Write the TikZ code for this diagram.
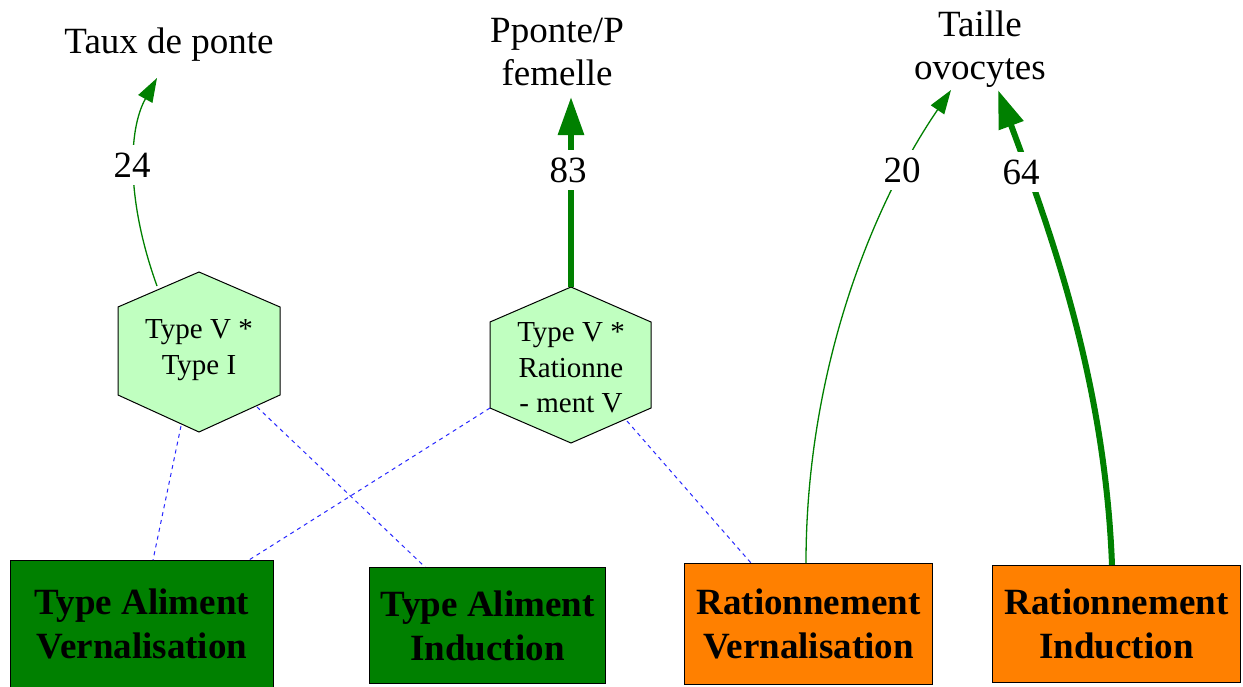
\documentclass[tikz,border=0pt]{standalone}
\usepackage{fontspec}
\setmainfont{Liberation Serif}
\usetikzlibrary{arrows.meta,calc}
\definecolor{dgreen}{RGB}{0,128,0}
\definecolor{orng}{RGB}{255,128,0}
\definecolor{hexfill}{RGB}{192,255,192}
\definecolor{dashblue}{RGB}{40,40,255}
\begin{document}
\begin{tikzpicture}[x=1pt,y=-1pt,
  lbl/.style={font=\fontsize{37}{40}\selectfont, fill=white, inner xsep=3pt, inner ysep=8pt},
  tgt/.style={font=\fontsize{37}{43}\selectfont, align=center, inner sep=0pt},
  boxst/.style={draw=black, line width=1pt, font=\fontsize{37}{44}\selectfont\bfseries, align=center, inner sep=0pt, anchor=north west},
  hexst/.style={draw=black, line width=1pt, fill=hexfill},
  hextxt/.style={font=\fontsize{29}{35.5}\selectfont, align=center, inner sep=0pt},
  thinarrow/.style={draw=dgreen, line width=1.3pt, -{Triangle[length=24pt,width=16pt]}},
  thickarrow/.style={draw=dgreen, line width=6pt, -{Triangle[length=38pt,width=25pt]}},
  dashlink/.style={draw=dashblue, line width=1pt, dash pattern=on 4pt off 4pt}]
\fill[white] (0,0) rectangle (1243,686);
\useasboundingbox (0,0) rectangle (1243,686);

% targets
\node[tgt] (taux) at (169,45) {Taux de ponte};
\node[tgt] (pponte) at (557,52) {Pponte/P\\femelle};
\node[tgt] (taille) at (980,49) {Taille\\ovocytes};
\coordinate (t1) at (157,78);
\coordinate (t2) at (571,97);
\coordinate (t3a) at (951,90);
\coordinate (t3b) at (998,90);

% boxes
\node[boxst, fill=dgreen, minimum width=263pt, minimum height=127pt] (b1) at (10,560) {Type Aliment\\Vernalisation};
\node[boxst, fill=dgreen, minimum width=236pt, minimum height=116pt] (b2) at (369,567) {Type Aliment\\Induction};
\node[boxst, fill=orng, minimum width=248pt, minimum height=121pt] (b3) at (684,563) {Rationnement\\Vernalisation};
\node[boxst, fill=orng, minimum width=248pt, minimum height=117pt] (b4) at (992,565) {Rationnement\\Induction};

% hexagon 1
\coordinate (h1n) at (199,272);
\coordinate (h1ne) at (280,307);
\coordinate (h1se) at (280,395);
\coordinate (h1s) at (199,432);
\coordinate (h1sw) at (118,395);
\coordinate (h1nw) at (118,307);
\draw[hexst] (h1n) -- (h1ne) -- (h1se) -- (h1s) -- (h1sw) -- (h1nw) -- cycle;
\node[hextxt] (h1) at (199,350) {Type V *\\Type I};

% hexagon 2
\coordinate (h2n) at (571,287);
\coordinate (h2ne) at (651,322);
\coordinate (h2se) at (651,408);
\coordinate (h2s) at (571,443);
\coordinate (h2sw) at (490,408);
\coordinate (h2nw) at (490,322);
\draw[hexst] (h2n) -- (h2ne) -- (h2se) -- (h2s) -- (h2sw) -- (h2nw) -- cycle;
\node[hextxt] (h2) at (571,368) {Type V *\\Rationne\\- ment V};

% attachment points
\coordinate (h1a) at (157,286);
\coordinate (h1b) at (181,426);
\coordinate (h1c) at (257,407);
\coordinate (h2b) at (627,421);
\coordinate (b1a) at (153,560);
\coordinate (b1b) at (249,560);
\coordinate (b2a) at (425,567);
\coordinate (b3a) at (751,563);
\coordinate (b3b) at (806,563);
\coordinate (b4a) at (1112,565);

% dashed links
\draw[dashlink] (h1b) -- (b1a);
\draw[dashlink] (h1c) -- (b2a);
\draw[dashlink] (h2sw) -- (b1b);
\draw[dashlink] (h2b) -- (b3a);

% green arrows
\draw[thinarrow] (h1a) .. controls (126,200) and (128,130) .. (t1);
\node[lbl] (l24) at (132,165) {24};
\draw[thickarrow] (h2n) -- (t2);
\node[lbl] (l83) at (568,170) {83};
\draw[thinarrow] (b3b) .. controls (806,380) and (866,215) .. (t3a);
\node[lbl] (l20) at (902,170) {20};
\draw[thickarrow] (b4a) .. controls (1105,380) and (1050,230) .. (t3b);
\node[lbl] (l64) at (1021,172) {64};
\end{tikzpicture}
\end{document}
